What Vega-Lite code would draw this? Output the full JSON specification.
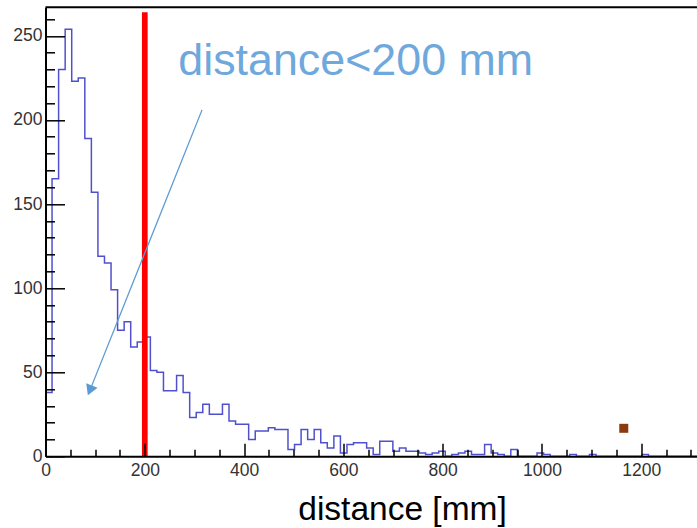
{
  "$schema": "https://vega.github.io/schema/vega-lite/v6.json",
  "autosize": {"type": "none"},
  "padding": {"left": 45.5, "top": 7.3, "right": 0, "bottom": 71.7},
  "width": 651.5,
  "height": 449,
  "background": "white",
  "config": {
    "view": {"stroke": null},
    "font": "Liberation Sans",
    "axis": {
      "domainColor": "black",
      "domainWidth": 2,
      "tickColor": "black",
      "tickWidth": 1.5,
      "labelFont": "Liberation Sans",
      "labelColor": "#333",
      "grid": false
    },
    "axisY": {"labelOverlap": false},
    "axisX": {"labelOverlap": false}
  },
  "data": {
    "values": [
      {"x": 0, "n": 38}, {"x": 13.2, "n": 165}, {"x": 26.4, "n": 230}, {"x": 39.6, "n": 254},
      {"x": 52.8, "n": 223}, {"x": 66, "n": 225}, {"x": 79.2, "n": 189}, {"x": 92.4, "n": 157},
      {"x": 105.6, "n": 119}, {"x": 118.8, "n": 115}, {"x": 132, "n": 99}, {"x": 145.2, "n": 75},
      {"x": 158.4, "n": 80}, {"x": 171.6, "n": 65}, {"x": 184.8, "n": 68}, {"x": 198, "n": 71},
      {"x": 211.2, "n": 51}, {"x": 224.4, "n": 50}, {"x": 237.6, "n": 39}, {"x": 250.8, "n": 39},
      {"x": 264, "n": 48}, {"x": 277.2, "n": 38}, {"x": 290.4, "n": 23}, {"x": 303.6, "n": 26},
      {"x": 316.8, "n": 31}, {"x": 330, "n": 25}, {"x": 343.2, "n": 25}, {"x": 356.4, "n": 31},
      {"x": 369.6, "n": 21}, {"x": 382.8, "n": 19}, {"x": 396, "n": 19}, {"x": 409.2, "n": 10},
      {"x": 422.4, "n": 15}, {"x": 435.6, "n": 15}, {"x": 448.8, "n": 17}, {"x": 462, "n": 16},
      {"x": 475.2, "n": 16}, {"x": 488.4, "n": 4}, {"x": 501.6, "n": 7}, {"x": 514.8, "n": 16},
      {"x": 528, "n": 10}, {"x": 541.2, "n": 16}, {"x": 554.4, "n": 8}, {"x": 567.6, "n": 5},
      {"x": 580.8, "n": 12}, {"x": 594, "n": 2}, {"x": 607.2, "n": 7}, {"x": 620.4, "n": 8},
      {"x": 633.6, "n": 8}, {"x": 646.8, "n": 5}, {"x": 660, "n": 1}, {"x": 673.2, "n": 9},
      {"x": 686.4, "n": 9}, {"x": 699.6, "n": 3}, {"x": 712.8, "n": 5}, {"x": 726, "n": 3},
      {"x": 739.2, "n": 3}, {"x": 752.4, "n": 2}, {"x": 765.6, "n": 1}, {"x": 778.8, "n": 2},
      {"x": 792, "n": 3}, {"x": 805.2, "n": 0}, {"x": 818.4, "n": 1}, {"x": 831.6, "n": 2},
      {"x": 844.8, "n": 3}, {"x": 858, "n": 1}, {"x": 871.2, "n": 1}, {"x": 884.4, "n": 7},
      {"x": 897.6, "n": 2}, {"x": 910.8, "n": 1}, {"x": 924, "n": 0}, {"x": 937.2, "n": 4},
      {"x": 950.4, "n": 0}, {"x": 963.6, "n": 0}, {"x": 976.8, "n": 0}, {"x": 990, "n": 2},
      {"x": 1003.2, "n": 1}, {"x": 1016.4, "n": 0}, {"x": 1029.6, "n": 0}, {"x": 1042.8, "n": 0},
      {"x": 1056, "n": 1}, {"x": 1069.2, "n": 0}, {"x": 1082.4, "n": 0}, {"x": 1095.6, "n": 1},
      {"x": 1108.8, "n": 0}, {"x": 1122, "n": 0}, {"x": 1135.2, "n": 0}, {"x": 1148.4, "n": 0},
      {"x": 1161.6, "n": 0}, {"x": 1174.8, "n": 0}, {"x": 1188, "n": 0}, {"x": 1201.2, "n": 1},
      {"x": 1214.4, "n": 0}, {"x": 1227.6, "n": 0}, {"x": 1240.8, "n": 0}, {"x": 1254, "n": 0},
      {"x": 1267.2, "n": 0}, {"x": 1280.4, "n": 0}, {"x": 1293.6, "n": 0}, {"x": 1306.8, "n": 0},
      {"x": 1320, "n": 0}
    ]
  },
  "layer": [
    {
      "mark": {"type": "line", "interpolate": "step-after", "color": "#5050cf", "strokeWidth": 1.5, "clip": true},
      "encoding": {
        "x": {
          "field": "x", "type": "quantitative",
          "scale": {"domain": [0, 1312.2], "nice": false, "zero": false},
          "axis": {
            "zindex": 1,
            "tickCount": 200,
            "values": [0,50,100,150,200,250,300,350,400,450,500,550,600,650,700,750,800,850,900,950,1000,1050,1100,1150,1200,1250,1300],
            "format": "d",
            "labelExpr": "datum.value % 200 === 0 ? datum.label : ''",
            "labelFontSize": {"condition": {"test": "datum.value % 200 === 0", "value": 17.5}, "value": 1},
            "tickSize": {"condition": {"test": "datum.value % 200 === 0", "value": -13}, "value": -7},
            "labelPadding": 18,
            "labelBaseline": "top",
            "labelFlush": false,
            "labelOverlap": false,
            "title": "distance [mm]",
            "titleFont": "Liberation Sans",
            "titleFontSize": 33.5,
            "titleFontWeight": "normal",
            "titleColor": "black",
            "titleX": 356.5,
            "titleY": 63,
            "titleAlign": "center",
            "titleBaseline": "alphabetic"
          }
        },
        "y": {
          "field": "n", "type": "quantitative",
          "scale": {"domain": [0, 267], "nice": false, "zero": true},
          "axis": {
            "zindex": 1,
            "tickCount": 200,
            "values": [0,10,20,30,40,50,60,70,80,90,100,110,120,130,140,150,160,170,180,190,200,210,220,230,240,250,260],
            "format": "d",
            "labelExpr": "datum.value % 50 === 0 ? datum.label : ''",
            "labelFontSize": {"condition": {"test": "datum.value % 50 === 0", "value": 17.5}, "value": 1},
            "tickSize": {"condition": {"test": "datum.value % 50 === 0", "value": -19}, "value": -9},
            "labelPadding": 22.5,
            "labelFlush": false,
            "labelOverlap": false,
            "title": null
          }
        }
      }
    },
    {
      "data": {"values": [{"x": 0, "x2": 1312.2, "y": 267}]},
      "mark": {"type": "rule", "color": "black", "strokeWidth": 2},
      "encoding": {
        "x": {"field": "x", "type": "quantitative"},
        "x2": {"field": "x2"},
        "y": {"field": "y", "type": "quantitative"}
      }
    },
    {
      "data": {"values": [{"x": 200, "y": 0, "y2": 264}]},
      "mark": {"type": "rule", "color": "#ff0000", "strokeWidth": 5.7},
      "encoding": {
        "x": {"field": "x", "type": "quantitative"},
        "y": {"field": "y", "type": "quantitative"},
        "y2": {"field": "y2"}
      }
    },
    {
      "data": {"values": [{"x": 315.3, "y": 206, "x2": 89.4, "y2": 39.2}]},
      "mark": {"type": "rule", "color": "#5b9bd5", "strokeWidth": 1.3},
      "encoding": {
        "x": {"field": "x", "type": "quantitative"},
        "y": {"field": "y", "type": "quantitative"},
        "x2": {"field": "x2"},
        "y2": {"field": "y2"}
      }
    },
    {
      "data": {"values": [{"x": 89.4, "y": 39.2}]},
      "mark": {"type": "point", "shape": "triangle-up", "filled": true, "color": "#5b9bd5", "opacity": 1, "size": 150, "angle": 202},
      "encoding": {
        "x": {"field": "x", "type": "quantitative"},
        "y": {"field": "y", "type": "quantitative"}
      }
    },
    {
      "data": {"values": [{"x": 1164.7, "y": 16.65}]},
      "mark": {"type": "point", "shape": "square", "filled": true, "color": "#8b3a0e", "opacity": 1, "size": 81},
      "encoding": {
        "x": {"field": "x", "type": "quantitative"},
        "y": {"field": "y", "type": "quantitative"}
      }
    },
    {
      "data": {"values": [{"x": 267.5, "y": 226.8, "label": "distance<200 mm"}]},
      "mark": {"type": "text", "align": "left", "baseline": "alphabetic", "font": "Liberation Sans", "fontSize": 44.8, "color": "#6fa8dc"},
      "encoding": {
        "x": {"field": "x", "type": "quantitative"},
        "y": {"field": "y", "type": "quantitative"},
        "text": {"field": "label"}
      }
    }
  ]
}
